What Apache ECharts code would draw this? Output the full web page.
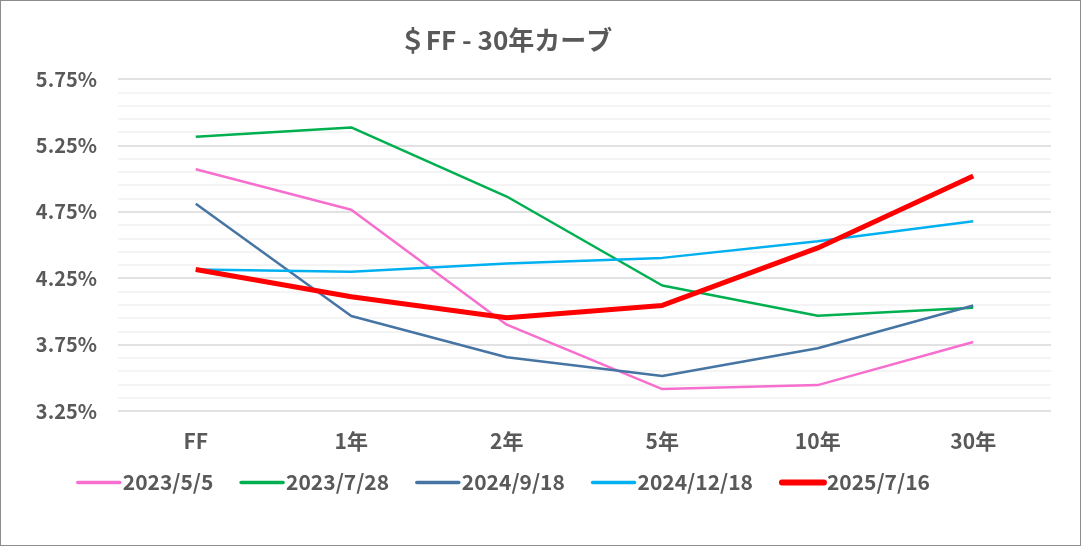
<!DOCTYPE html>
<html>
<head>
<meta charset="utf-8">
<script src="https://cdn.jsdelivr.net/npm/echarts@6/dist/echarts.min.js"></script>
<style>
  html, body { margin: 0; padding: 0; background: #fff; }
  #chart { width: 1081px; height: 546px; box-sizing: border-box; border: 1px solid #8c8c8c; }
</style>
</head>
<body>
<div id="chart"></div>
<script>
var categories = ["FF", "1年", "2年", "5年", "10年", "30年"];
var seriesNames = ["2023/5/5", "2023/7/28", "2024/9/18", "2024/12/18", "2025/7/16"];
var d20230505 = [5.07, 4.765, 3.90, 3.415, 3.445, 3.77];
var d20230728 = [5.315, 5.385, 4.865, 4.195, 3.967, 4.027];
var d20240918 = [4.81, 3.965, 3.655, 3.514, 3.722, 4.045];
var d20241218 = [4.315, 4.298, 4.36, 4.403, 4.528, 4.678];
var d20250716 = [4.315, 4.11, 3.952, 4.045, 4.478, 5.02];
var yMin = 3.25, yMax = 5.75;

var colors = ["#f66fcf", "#00b050", "#4674a3", "#00b0f0", "#ff0000"];
var widths = [2.5, 2.5, 2.5, 2.5, 5];
var allData = [d20230505, d20230728, d20240918, d20241218, d20250716];

var font = "'Noto Sans CJK JP', 'Noto Sans', sans-serif";
var major = "#d9d9d9", minor = "#f0f0f0", none = "rgba(0,0,0,0)";

var series = [];
var legendData = [];
for (var i = 0; i < seriesNames.length; i++) {
  series.push({
    name: seriesNames[i],
    type: "line",
    data: allData[i],
    symbol: "none",
    lineStyle: { color: colors[i], width: widths[i] },
    itemStyle: { color: colors[i] },
    z: i === 4 ? 5 : 2
  });
  legendData.push({
    name: seriesNames[i],
    lineStyle: { color: colors[i], width: i === 4 ? 6 : 3.5, cap: "round" }
  });
}

var chart = echarts.init(document.getElementById("chart"));
chart.setOption({
  animation: false,
  title: {
    text: "＄FF - 30年カーブ",
    left: 500,
    textAlign: "center",
    top: 21,
    textStyle: { fontFamily: font, fontSize: 26, fontWeight: "bold", color: "#595959" }
  },
  legend: {
    data: legendData,
    left: 70,
    top: 466,
    itemWidth: 42,
    itemHeight: 14,
    itemGap: 26,
    itemStyle: { opacity: 0 },
    textStyle: { fontFamily: font, fontSize: 21, fontWeight: "bold", color: "#595959", padding: [0, 0, 0, -2] }
  },
  grid: { left: 117, right: 29, top: 78, bottom: 134, containLabel: false },
  xAxis: {
    type: "category",
    data: categories,
    boundaryGap: true,
    axisLine: { show: false },
    axisTick: { show: false },
    axisLabel: { margin: 20, fontFamily: font, fontSize: 21, fontWeight: "bold", color: "#595959" }
  },
  yAxis: {
    type: "value",
    min: yMin,
    max: yMax,
    interval: 0.05,
    axisLine: { show: false },
    axisTick: { show: false },
    axisLabel: {
      margin: 21,
      fontFamily: font,
      fontSize: 20,
      fontWeight: "bold",
      color: "#595959",
      formatter: function (v) {
        var r = Math.round(v * 100);
        if ((r - 325) % 50 === 0) return (r / 100).toFixed(2) + "%";
        return "";
      }
    },
    splitLine: {
      lineStyle: {
        width: 1.5,
        color: [major, none, minor, none, minor, none, minor, none, minor, none]
      }
    }
  },
  series: series
});
</script>
</body>
</html>
